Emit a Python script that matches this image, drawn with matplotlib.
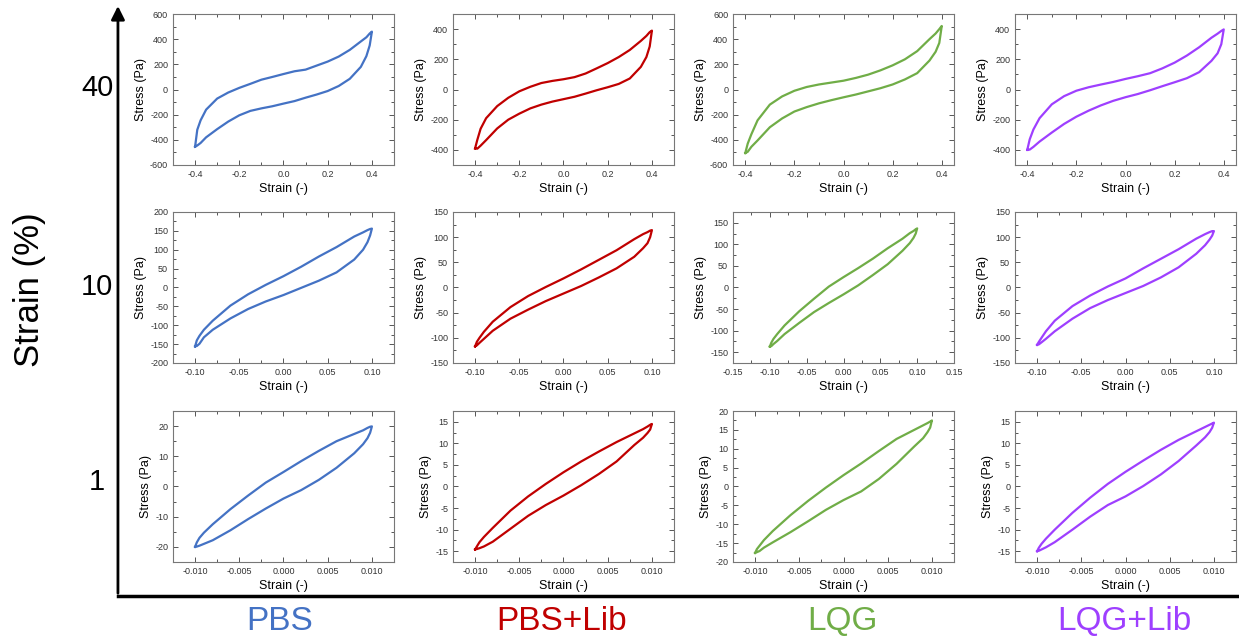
import matplotlib
matplotlib.use('Agg')
from matplotlib import pyplot as plt
from matplotlib.ticker import AutoMinorLocator, FormatStrFormatter, MultipleLocator
from matplotlib.patches import FancyArrowPatch
from matplotlib.lines import Line2D

plt.rcParams['font.family'] = ['Liberation Sans', 'DejaVu Sans']
plt.rcParams['axes.unicode_minus'] = False

samples = ['PBS', 'PBS+Lib', 'LQG', 'LQG+Lib']
colors = ['#4472C4', '#C00000', '#70AD47', '#9E3FFF']
amplitudes = ['40', '10', '1']

# strain grids (-), one per amplitude
strain_40 = [-0.4, -0.39, -0.375, -0.35, -0.3, -0.25, -0.2, -0.15, -0.1, -0.05, 0.0,
             0.05, 0.1, 0.15, 0.2, 0.25, 0.3, 0.35, 0.375, 0.39, 0.4]
strain_10 = [-0.1, -0.098, -0.095, -0.09, -0.08, -0.06, -0.04, -0.02, 0.0,
             0.02, 0.04, 0.06, 0.08, 0.09, 0.095, 0.098, 0.1]
strain_1 = [-0.01, -0.0098, -0.0095, -0.009, -0.008, -0.006, -0.004, -0.002, 0.0,
            0.002, 0.004, 0.006, 0.008, 0.009, 0.0095, 0.0098, 0.01]

# stress (Pa): upper branch and lower branch on the strain grid
pbs_40_up = [-455, -320, -245, -160, -72, -24, 13, 45, 78, 100, 123, 145, 158, 190, 222, 262, 315, 382, 415, 445, 460]
pbs_40_lo = [-455, -445, -425, -380, -315, -255, -205, -170, -150, -133, -112, -92, -65, -40, -12, 28, 85, 180, 265, 350, 460]
pbslib_40_up = [-390, -334, -260, -190, -110, -55, -12, 18, 43, 57, 68, 82, 106, 140, 175, 215, 262, 322, 355, 380, 390]
pbslib_40_lo = [-390, -392, -372, -335, -258, -200, -160, -125, -100, -80, -64, -48, -27, -5, 15, 37, 73, 150, 215, 285, 390]
lqg_40_up = [-505, -430, -355, -245, -120, -55, -10, 20, 40, 55, 70, 92, 118, 152, 192, 240, 305, 400, 445, 480, 505]
lqg_40_lo = [-505, -495, -455, -405, -300, -230, -175, -140, -110, -85, -62, -40, -15, 10, 40, 80, 130, 230, 300, 370, 505]
lqglib_40_up = [-400, -330, -265, -190, -98, -44, -8, 15, 33, 50, 70, 88, 108, 140, 178, 225, 280, 343, 370, 388, 398]
lqglib_40_lo = [-400, -398, -380, -345, -285, -228, -180, -140, -105, -75, -51, -30, -5, 22, 48, 75, 115, 190, 240, 300, 398]

pbs_10_up = [-156, -140, -128, -112, -88, -48, -18, 7, 30, 55, 82, 107, 135, 146, 152, 155, 156]
pbs_10_lo = [-156, -155, -149, -132, -112, -82, -57, -37, -20, -1, 18, 40, 74, 100, 120, 138, 156]
pbslib_10_up = [-117, -108, -100, -88, -68, -39, -17, 1, 18, 36, 55, 74, 96, 106, 110, 113, 114]
pbslib_10_lo = [-117, -115, -110, -102, -86, -62, -44, -27, -12, 3, 20, 38, 61, 78, 88, 100, 114]
lqg_10_up = [-137, -128, -119, -108, -88, -55, -26, 2, 24, 45, 67, 91, 113, 126, 131, 135, 137]
lqg_10_lo = [-137, -136, -131, -124, -108, -82, -57, -36, -16, 5, 29, 54, 85, 103, 115, 125, 137]
lqglib_10_up = [-114, -108, -100, -87, -66, -37, -16, 2, 18, 38, 57, 76, 97, 106, 110, 112, 112]
lqglib_10_lo = [-114, -113, -109, -102, -87, -62, -41, -25, -11, 3, 20, 40, 67, 84, 95, 103, 112]

pbs_1_up = [-20, -18.5, -17, -15.3, -12.5, -7.5, -3, 1.3, 4.8, 8.4, 11.8, 15, 17.4, 18.6, 19.4, 19.8, 19.9]
pbs_1_lo = [-20, -19.9, -19.6, -19, -17.8, -14.5, -10.8, -7.3, -4, -1.2, 2.2, 6.2, 11, 14, 16, 17.8, 19.9]
pbslib_1_up = [-14.6, -13.9, -12.9, -11.7, -9.6, -5.6, -2.3, 0.6, 3.3, 5.8, 8.1, 10.3, 12.3, 13.3, 13.9, 14.3, 14.5]
pbslib_1_lo = [-14.6, -14.5, -14.3, -13.9, -12.8, -9.8, -6.8, -4.3, -2.1, 0.3, 2.9, 5.8, 9.6, 11.3, 12.4, 13.2, 14.5]
lqg_1_up = [-17.6, -16.6, -15.7, -14.2, -11.8, -7.6, -3.8, -0.3, 3, 6.1, 9.4, 12.6, 15, 16.2, 16.8, 17.2, 17.5]
lqg_1_lo = [-17.6, -17.4, -17.1, -16.2, -14.8, -12.1, -9.2, -6.2, -3.6, -1.3, 2, 6, 10.6, 12.8, 14.4, 15.6, 17.5]
lqglib_1_up = [-15, -14.2, -13.3, -12.1, -10, -6.1, -2.6, 0.6, 3.4, 6, 8.5, 10.8, 12.8, 13.8, 14.3, 14.6, 14.8]
lqglib_1_lo = [-15, -14.9, -14.6, -14.1, -12.9, -10, -7, -4.3, -2.3, 0.1, 2.8, 5.9, 9.5, 11.4, 12.6, 13.6, 14.8]

strains = [strain_40, strain_10, strain_1]
loops = [
    [(pbs_40_up, pbs_40_lo), (pbslib_40_up, pbslib_40_lo), (lqg_40_up, lqg_40_lo), (lqglib_40_up, lqglib_40_lo)],
    [(pbs_10_up, pbs_10_lo), (pbslib_10_up, pbslib_10_lo), (lqg_10_up, lqg_10_lo), (lqglib_10_up, lqglib_10_lo)],
    [(pbs_1_up, pbs_1_lo), (pbslib_1_up, pbslib_1_lo), (lqg_1_up, lqg_1_lo), (lqglib_1_up, lqglib_1_lo)],
]

# axis settings per panel: xlim, xstep, ylim, ystep
xlims = [[0.5, 0.5, 0.45, 0.45], [0.125, 0.125, 0.15, 0.125], [0.0125, 0.0125, 0.0125, 0.0125]]
xsteps = [0.2, 0.05, 0.005]
xfmts = ['%.1f', '%.2f', '%.3f']
ylims = [[600, 500, 600, 500], [200, 150, 175, 150], [25, 17.5, 20, 17.5]]
ysteps = [[200, 200, 200, 200], [50, 50, 50, 50], [10, 5, 5, 5]]

fig = plt.figure(figsize=(12.39, 6.43), dpi=100)

lefts = [0.1396, 0.3656, 0.5916, 0.8192]
bottoms = [0.7434, 0.4355, 0.1260]
w, h = 0.1784, 0.2348

for r in range(3):
    for c in range(4):
        ax = fig.add_axes([lefts[c], bottoms[r], w, h])
        up, lo = loops[r][c]
        x = strains[r] + strains[r][::-1]
        y = up + lo[::-1]
        ax.plot(x, y, color=colors[c], lw=1.6, solid_joinstyle='round')
        ax.set_xlim(-xlims[r][c], xlims[r][c])
        ax.set_ylim(-ylims[r][c], ylims[r][c])
        ax.xaxis.set_major_locator(MultipleLocator(xsteps[r]))
        ax.yaxis.set_major_locator(MultipleLocator(ysteps[r][c]))
        ax.xaxis.set_minor_locator(AutoMinorLocator(2))
        ax.yaxis.set_minor_locator(AutoMinorLocator(2))
        ax.xaxis.set_major_formatter(FormatStrFormatter(xfmts[r]))
        ax.yaxis.set_major_formatter(FormatStrFormatter('%g'))
        ax.tick_params(which='both', direction='in', top=True, right=True,
                       labelsize=6.5, labelcolor='#333333', color='#555555', width=0.7)
        ax.tick_params(which='major', length=3.5)
        ax.tick_params(which='minor', length=2)
        for s in ax.spines.values():
            s.set_color('#777777')
            s.set_linewidth(0.8)
        ax.set_xlabel('Strain (-)', fontsize=9, labelpad=3)
        ax.set_ylabel('Stress (Pa)', fontsize=9, labelpad=2)

# big frame with arrow
x0, y0 = 0.0952, 0.073
fig.add_artist(FancyArrowPatch((x0, y0), (x0, 0.995), transform=fig.transFigure,
                               arrowstyle='-|>', mutation_scale=20, lw=2, color='black'))
fig.add_artist(Line2D([x0, 1.0], [y0, y0], transform=fig.transFigure, lw=2.5, color='black'))

row_y = [0.863, 0.5537, 0.2504]
for r in range(3):
    fig.text(0.0783, row_y[r], amplitudes[r], fontsize=21, ha='center', va='center')
fig.text(0.0242, 0.549, 'Strain (%)', fontsize=25, rotation=90, ha='center', va='center')

label_x = [0.2253, 0.4536, 0.6796, 0.9072]
for c in range(4):
    fig.text(label_x[c], 0.0327, samples[c], color=colors[c], fontsize=24, ha='center', va='center')

plt.savefig('out.png', dpi=100)
